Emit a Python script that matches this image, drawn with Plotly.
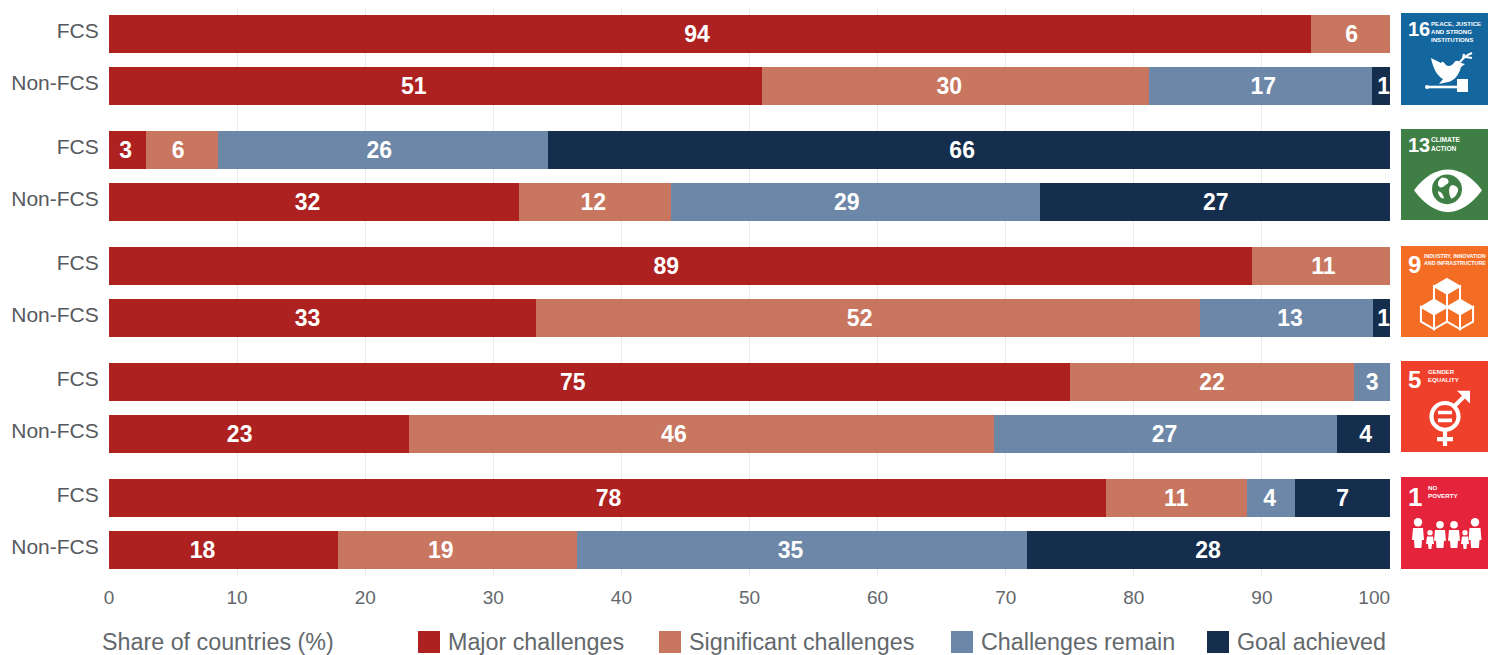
import base64
import plotly.graph_objects as go

# ---------- data ----------
groups = ["FCS", "Non-FCS"]
goals = ["16", "13", "9", "5", "1"]
goal_titles = ["PEACE, JUSTICE<br>AND STRONG<br>INSTITUTIONS", "CLIMATE<br>ACTION",
               "INDUSTRY, INNOVATION<br>AND INFRASTRUCTURE", "GENDER<br>EQUALITY", "NO<br>POVERTY"]
series_names = ["Major challenges", "Significant challenges", "Challenges remain", "Goal achieved"]
major = [93.8, 51.0, 2.9, 32.0, 89.2, 33.3, 75.0, 23.4, 77.8, 17.9]
significant = [6.2, 30.2, 5.6, 11.9, 10.8, 51.9, 22.2, 45.7, 11.0, 18.6]
remain = [0, 17.4, 25.8, 28.8, 0, 13.5, 2.8, 26.8, 3.8, 35.2]
achieved = [0, 1.4, 65.7, 27.3, 0, 1.3, 0, 4.1, 7.4, 28.3]
series_values = [major, significant, remain, achieved]

# printed labels and where they sit along the share axis
major_labels = ["94", "51", "3", "32", "89", "33", "75", "23", "78", "18"]
significant_labels = ["6", "30", "6", "12", "11", "52", "22", "46", "11", "19"]
remain_labels = ["", "17", "26", "29", "", "13", "3", "27", "4", "35"]
achieved_labels = ["", "1", "66", "27", "", "1", "", "4", "7", "28"]
series_labels = [major_labels, significant_labels, remain_labels, achieved_labels]
major_label_x = [45.9, 23.8, 1.3, 15.5, 43.5, 15.5, 36.2, 10.2, 39.0, 7.3]
significant_label_x = [97.0, 65.6, 5.4, 37.8, 94.8, 58.6, 86.1, 44.1, 83.3, 25.9]
remain_label_x = [None, 90.1, 21.1, 57.6, None, 92.2, 98.6, 82.4, 90.6, 53.2]
achieved_label_x = [None, 99.5, 66.6, 86.4, None, 99.5, None, 98.1, 96.3, 85.8]
series_label_x = [major_label_x, significant_label_x, remain_label_x, achieved_label_x]
x_ticks = [0, 10, 20, 30, 40, 50, 60, 70, 80, 90, 100]

# ---------- style ----------
colors = ["#ae2121", "#c87660", "#6d87a8", "#152e4e"]
tile_colors = ["#14679e", "#3f7e44", "#f36d25", "#ef402b", "#e5243b"]
W, H = 1488, 655
L, R, T, B = 109, 1390, 8, 577
GROUP_STEP, ROW_STEP, BAR = 116, 52, 38
FONT = "Liberation Sans"
TXT = "#63686c"

px = lambda x: (x - L) / (R - L)
py = lambda y: 1 - (y - T) / (B - T)

y_pos = [g * GROUP_STEP + r * ROW_STEP for g in range(len(goals)) for r in range(len(groups))]
y_labels = [groups[r] for g in range(len(goals)) for r in range(len(groups))]

fig = go.Figure()
for name, vals, c in zip(series_names, series_values, colors):
    fig.add_bar(
        x=vals, y=y_pos, orientation="h", name=name, width=BAR,
        marker=dict(color=c, line=dict(width=0)),
        showlegend=False,
        hovertemplate="%{x}<extra>" + name + "</extra>",
    )
for labels, lx in zip(series_labels, series_label_x):
    fig.add_scatter(
        x=lx, y=[y + 2 for y in y_pos], mode="text", text=labels, textposition="middle center",
        textfont=dict(family=FONT, size=23, color="white", weight="bold"),
        showlegend=False, hoverinfo="skip", cliponaxis=False,
    )

# ---------- SDG tiles ----------
def cube(cx, cy, s):
    h = s * 0.58
    return (
        f'<path d="M{cx},{cy-s} L{cx+s*.87},{cy-s+h*.87} L{cx},{cy-s+h*1.74} L{cx-s*.87},{cy-s+h*.87} Z" fill="white" stroke="white" stroke-width="1.4"/>'
        f'<path d="M{cx-s*.87},{cy-s+h*.87} L{cx},{cy-s+h*1.74} L{cx},{cy+s} L{cx-s*.87},{cy+s-h*.87} Z" fill="#f36d25" stroke="white" stroke-width="2"/>'
        f'<path d="M{cx+s*.87},{cy-s+h*.87} L{cx},{cy-s+h*1.74} L{cx},{cy+s} L{cx+s*.87},{cy+s-h*.87} Z" fill="#f36d25" stroke="white" stroke-width="2"/>'
    )

def person(cx, top, hgt, wid):
    r = hgt * 0.14
    b = top + 2.4 * r
    bot = top + hgt
    return (
        f'<circle cx="{cx}" cy="{top+r}" r="{r}" fill="white"/>'
        f'<path d="M{cx-wid/2},{b} H{cx+wid/2} L{cx+wid/2+1},{b+hgt*.4} H{cx+wid/2-1} L{cx+wid/2-1.6},{bot} '
        f'H{cx-wid/2+1.6} L{cx-wid/2+1},{b+hgt*.4} H{cx-wid/2-1} Z" fill="white"/>'
    )

icons = [
    # dove and gavel
    '<path d="M30,45 L40,50 C42,47 43,50 45,52 C48,54 50,53 53,50 C54,47 58,47 60,50 L64,51 L60,54 '
    'C58,62 53,68 47,69 L38,71 L42,66 C36,63 32,55 30,45 Z" fill="white"/>'
    '<path d="M59,49 C62,45 66,42 71,40 M62,46 L63,41 M65,44 L71,45" stroke="white" stroke-width="2.2" fill="none"/>'
    '<path d="M26,74 H58" stroke="white" stroke-width="2.6"/><circle cx="26" cy="74" r="2" fill="white"/>'
    '<rect x="56" y="66" width="11" height="13" fill="white"/>',
    # eye and earth
    '<path d="M13,62 C24,47 36,41 47,41 C58,41 70,47 81,62 C70,77 58,84 47,84 C36,84 24,77 13,62 Z" fill="white"/>'
    '<circle cx="46" cy="61" r="15" fill="#3f7e44"/>'
    '<path d="M41,49 C46,49 49,52 47,55 C44,56 42,60 39,59 C36,57 36,52 41,49 Z M50,57 C54,56 58,59 57,63 '
    'C55,68 52,71 50,70 C48,66 47,60 50,57 Z M37,63 C40,63 42,66 43,70 C40,71 37,67 37,63 Z" fill="white"/>',
    # cubes
    cube(46, 48, 15) + cube(59, 69, 15) + cube(33, 69, 15),
    # gender
    '<circle cx="44" cy="56" r="13.5" fill="none" stroke="white" stroke-width="4.2"/>'
    '<path d="M37,52 H51 M37,60 H51" stroke="white" stroke-width="3.6"/>'
    '<path d="M44,70 V86 M36,79 H52" stroke="white" stroke-width="4.2"/>'
    '<path d="M53,46 L66,33" stroke="white" stroke-width="4"/>'
    '<path d="M56,30 H69 V43 Z" fill="white"/>',
    # family
    person(17, 41, 30, 10) + person(29, 53, 19, 6) + person(39, 44, 27, 10)
    + person(53, 44, 27, 10) + person(64, 53, 19, 6) + person(74, 41, 30, 11),
]

tile_boxes = [(13, 105), (129, 220), (246, 337), (361, 452), (477, 569)]
TILE_X0, TILE_X1 = 1401, 1488
num_size = [20, 20, 24, 24, 26]
title_size = [6.1, 6.6, 5.3, 6.1, 6.2]
title_dx = [28, 28, 21, 25, 25]
shapes, annotations, images = [], [], []
for i, (y0, y1) in enumerate(tile_boxes):
    shapes.append(dict(type="rect", xref="paper", yref="paper", layer="below",
                       x0=px(TILE_X0), x1=px(TILE_X1), y0=py(y1), y1=py(y0),
                       fillcolor=tile_colors[i], line_width=0))
    svg = f'<svg xmlns="http://www.w3.org/2000/svg" viewBox="0 0 87 92" width="87" height="92">{icons[i]}</svg>'
    images.append(dict(source="data:image/svg+xml;base64," + base64.b64encode(svg.encode()).decode(),
                       xref="paper", yref="paper", x=px(TILE_X0), y=py(y0),
                       sizex=px(TILE_X1) - px(TILE_X0), sizey=py(y0) - py(y1),
                       xanchor="left", yanchor="top", sizing="stretch", layer="above"))
    annotations.append(dict(xref="paper", yref="paper", x=px(TILE_X0 + 5), y=py(y0 + 3),
                            xanchor="left", yanchor="top", showarrow=False, text=f"<b>{goals[i]}</b>",
                            font=dict(family=FONT, size=num_size[i], color="white")))
    annotations.append(dict(xref="paper", yref="paper", x=px(TILE_X0 + title_dx[i]), y=py(y0 + 5),
                            xanchor="left", yanchor="top", align="left", showarrow=False,
                            text=f"<b>{goal_titles[i]}</b>",
                            font=dict(family=FONT, size=title_size[i], color="white")))

# ---------- legend row and axis title ----------
LEG_Y = 642
swatch_x = [418, 659, 951, 1207]
for name, c, sx in zip(series_names, colors, swatch_x):
    shapes.append(dict(type="rect", xref="paper", yref="paper",
                       x0=px(sx), x1=px(sx + 22), y0=py(LEG_Y + 11), y1=py(LEG_Y - 11),
                       fillcolor=c, line_width=0))
    annotations.append(dict(xref="paper", yref="paper", x=px(sx + 28), y=py(LEG_Y),
                            xanchor="left", yanchor="middle", showarrow=False, text=name,
                            font=dict(family=FONT, size=23.3, color=TXT)))
annotations.append(dict(xref="paper", yref="paper", x=px(100), y=py(LEG_Y),
                        xanchor="left", yanchor="middle", showarrow=False,
                        text="Share of countries (%)",
                        font=dict(family=FONT, size=23.3, color=TXT)))

x_tick_text = [str(t) for t in x_ticks]
x_tick_text[-1] = x_tick_text[-1] + "\u00a0" * 6

fig.update_layout(
    width=W, height=H, barmode="stack", bargap=0,
    margin=dict(l=L, r=W - R, t=T, b=H - B, pad=0),
    paper_bgcolor="white", plot_bgcolor="white",
    font=dict(family=FONT, color=TXT),
    xaxis=dict(range=[0, 100], tickvals=x_ticks, ticktext=x_tick_text,
               showgrid=True, gridcolor="#ebebeb", gridwidth=1, zeroline=False,
               ticks="outside", ticklen=3, tickcolor="white", showline=False,
               tickfont=dict(family=FONT, size=19, color=TXT)),
    yaxis=dict(range=[543, -26], tickvals=[y - 3 for y in y_pos], ticktext=y_labels,
               showgrid=False, zeroline=False, ticks="outside", ticklen=5, tickcolor="white",
               showline=False, tickfont=dict(family=FONT, size=21, color="#55595d")),
    shapes=shapes, annotations=annotations, images=images,
)

fig.write_html("out.html", config={"displayModeBar": False},
               post_script="document.body.style.margin='0';document.documentElement.style.overflow='hidden';")
